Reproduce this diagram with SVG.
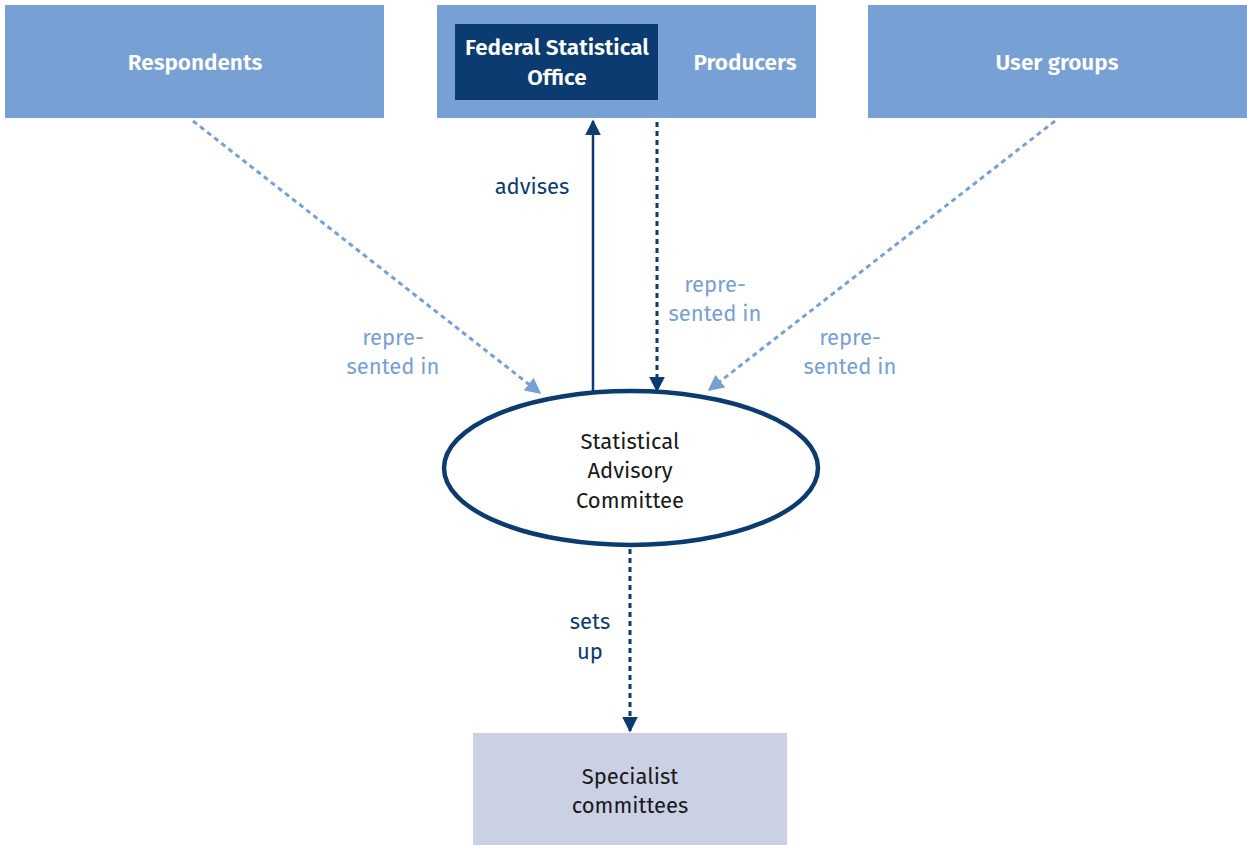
<svg xmlns="http://www.w3.org/2000/svg" width="1247" height="845" viewBox="0 0 1247 845">
<defs>
<style>
text{font-family:"Fira Sans","Open Sans","Noto Sans",sans-serif;font-size:22px;text-anchor:middle}
.hdr{fill:#ffffff;font-weight:600;font-size:22.5px}
.lbl{fill:#77a1d4}
.drk{fill:#0b3b70}
.blk{fill:#1a1a1a}
.light{fill:#77a1d4}
</style>
<marker id="ah" viewBox="0 0 10 10" refX="9" refY="5" markerWidth="16" markerHeight="16" markerUnits="userSpaceOnUse" orient="auto"><path d="M0,0 L10,5 L0,10 Z" fill="#0b3b70"/></marker>
<marker id="ahl" viewBox="0 0 10 10" refX="9" refY="5" markerWidth="16" markerHeight="16" markerUnits="userSpaceOnUse" orient="auto"><path d="M0,0 L10,5 L0,10 Z" fill="#77a1d4"/></marker>
</defs>
<rect width="1247" height="845" fill="#ffffff"/>
<g id="respondents"><rect class="light" x="5" y="5" width="379" height="113"/><text class="hdr" x="195" y="70">Respondents</text></g>
<g id="producers"><rect class="light" x="437" y="5" width="379" height="113"/><text class="hdr" x="745" y="70">Producers</text>
<g id="federal"><rect x="455" y="24" width="203" height="76" fill="#0b3b70"/><text class="hdr" x="557" y="55">Federal Statistical</text><text class="hdr" x="557" y="85">Office</text></g></g>
<g id="usergroups"><rect class="light" x="868" y="5" width="379" height="113"/><text class="hdr" x="1057" y="70">User groups</text></g>
<g id="committee"><ellipse cx="631" cy="468" rx="187" ry="77" fill="#ffffff" stroke="#0b3b70" stroke-width="4.5"/>
<text class="blk" x="630" y="449">Statistical</text><text class="blk" x="630" y="478">Advisory</text><text class="blk" x="630" y="508">Committee</text></g>
<g id="specialist"><rect x="473" y="733" width="314" height="112" fill="#cbd1e5"/><text class="blk" x="630" y="784">Specialist</text><text class="blk" x="630" y="813">committees</text></g>
<g id="connectors" fill="none">
<line x1="593" y1="392" x2="593" y2="121" stroke="#0b3b70" stroke-width="2.5" marker-end="url(#ah)"/>
<line x1="657" y1="122" x2="657" y2="391" stroke="#0b3b70" stroke-width="3" stroke-dasharray="5,4" marker-end="url(#ah)"/>
<line x1="193" y1="121" x2="540" y2="393" stroke="#77a1d4" stroke-width="3" stroke-dasharray="5,4" marker-end="url(#ahl)"/>
<line x1="1055" y1="121" x2="709" y2="390" stroke="#77a1d4" stroke-width="3" stroke-dasharray="5,4" marker-end="url(#ahl)"/>
<line x1="630" y1="549" x2="630" y2="731" stroke="#0b3b70" stroke-width="3" stroke-dasharray="5,4" marker-end="url(#ah)"/>
</g>
<g id="labels">
<text class="drk" x="532" y="194">advises</text>
<text class="lbl" x="393" y="345">repre-</text><text class="lbl" x="393" y="374">sented in</text>
<text class="lbl" x="715" y="292">repre-</text><text class="lbl" x="715" y="321">sented in</text>
<text class="lbl" x="850" y="345">repre-</text><text class="lbl" x="850" y="374">sented in</text>
<text class="drk" x="590" y="629">sets</text><text class="drk" x="590" y="659">up</text>
</g>
</svg>
